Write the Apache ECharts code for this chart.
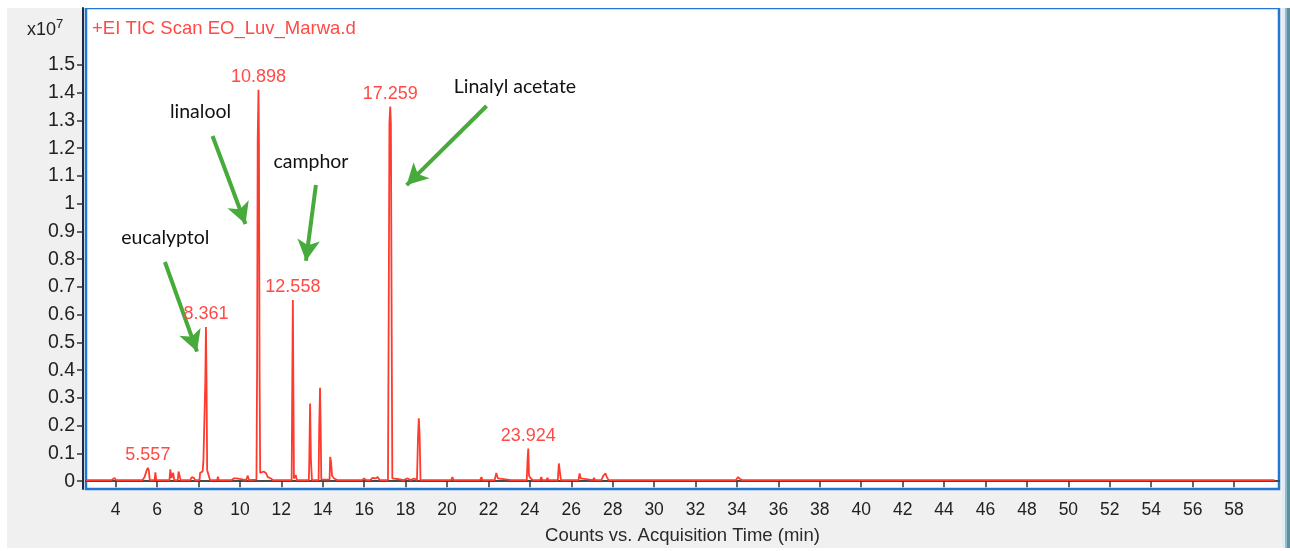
<!DOCTYPE html>
<html>
<head>
<meta charset="utf-8">
<script src="https://cdn.jsdelivr.net/npm/echarts@6/dist/echarts.min.js"></script>
<style>html,body{margin:0;padding:0;background:#fff}#c{width:1290px;height:551px}</style>
</head>
<body>
<div id="c"></div>
<script>
// Retention time (min) and TIC counts (x10^7)
const retentionTimes = [
  2.57, 3.80, 3.88, 3.95, 4.02, 5.30, 5.40, 5.50, 5.557, 5.60, 5.65, 5.88, 5.92, 5.96,
  6.60, 6.64, 6.70, 6.78, 6.83, 7.00, 7.04, 7.10, 7.14, 7.60, 7.68, 7.78, 7.84,
  8.05, 8.08, 8.20, 8.24, 8.30, 8.33, 8.361, 8.39, 8.42, 8.50, 8.56,
  8.90, 8.94, 8.98, 9.20, 9.28, 9.34, 9.60, 9.70, 9.85, 9.92, 10.30, 10.38, 10.44,
  10.80, 10.83, 10.86, 10.898, 10.92, 10.95, 10.98, 11.05, 11.15, 11.25, 11.35, 11.50, 11.60,
  12.50, 12.53, 12.558, 12.58, 12.61, 12.70, 12.75,
  13.33, 13.35, 13.39, 13.43, 13.46, 13.48, 13.80, 13.83, 13.87, 13.90, 13.93,
  14.33, 14.36, 14.40, 14.45, 14.55, 14.70,
  15.90, 16.00, 16.10, 16.30, 16.40, 16.55, 16.65, 16.75,
  17.15, 17.18, 17.22, 17.259, 17.29, 17.33, 17.36, 17.60, 17.90, 18.10, 18.25, 18.40,
  18.55, 18.60, 18.64, 18.68, 18.72,
  20.20, 20.26, 20.32, 21.60, 21.66, 21.72, 22.30, 22.38, 22.46, 22.55, 23.10, 23.15, 23.20,
  23.85, 23.89, 23.924, 23.96, 24.05, 24.15, 24.50, 24.55, 24.60, 24.80, 24.85, 24.90,
  25.35, 25.40, 25.46, 25.50, 25.85, 25.90, 25.95, 26.35, 26.40, 26.46, 26.52,
  27.05, 27.10, 27.15, 27.45, 27.55, 27.65, 27.72, 27.80, 28.00, 28.05, 28.10,
  30.28, 30.33, 30.38, 32.48, 32.52, 32.56, 33.95, 34.05, 34.15, 34.25, 59.95
];
const intensities = [
  0.004, 0.004, 0.010, 0.012, 0.004, 0.004, 0.015, 0.040, 0.048, 0.040, 0.004, 0.004, 0.032, 0.004,
  0.004, 0.043, 0.012, 0.030, 0.004, 0.004, 0.035, 0.037, 0.004, 0.004, 0.015, 0.012, 0.004,
  0.004, 0.030, 0.035, 0.075, 0.080, 0.360, 0.556, 0.360, 0.040, 0.035, 0.004,
  0.004, 0.016, 0.004, 0.004, 0.010, 0.004, 0.004, 0.010, 0.010, 0.004, 0.004, 0.020, 0.004,
  0.006, 0.395, 1.230, 1.410, 1.230, 0.395, 0.030, 0.025, 0.035, 0.030, 0.015, 0.010, 0.004,
  0.004, 0.372, 0.653, 0.372, 0.010, 0.022, 0.004,
  0.004, 0.075, 0.280, 0.075, 0.075, 0.004, 0.004, 0.200, 0.337, 0.200, 0.006,
  0.006, 0.088, 0.070, 0.020, 0.010, 0.004,
  0.004, 0.010, 0.004, 0.004, 0.012, 0.010, 0.015, 0.004,
  0.004, 0.520, 1.290, 1.350, 1.290, 0.520, 0.010, 0.008, 0.004, 0.010, 0.004, 0.010,
  0.004, 0.160, 0.227, 0.160, 0.004,
  0.004, 0.015, 0.004, 0.004, 0.015, 0.004, 0.004, 0.030, 0.010, 0.004, 0.004, 0.010, 0.004,
  0.004, 0.080, 0.118, 0.020, 0.010, 0.004, 0.004, 0.015, 0.004, 0.004, 0.012, 0.004,
  0.004, 0.064, 0.058, 0.004, 0.004, 0.010, 0.004, 0.004, 0.028, 0.010, 0.004,
  0.004, 0.012, 0.004, 0.004, 0.020, 0.028, 0.015, 0.004, 0.004, 0.010, 0.004,
  0.004, 0.010, 0.004, 0.004, 0.008, 0.004, 0.004, 0.015, 0.008, 0.004, 0.004
];
// Labelled peaks
const peakTimes = [5.557, 8.361, 10.898, 12.558, 17.259, 23.924];
const peakHeights = [0.048, 0.556, 1.410, 0.653, 1.350, 0.118];
// Compound annotations: label position and arrow (start -> tip) in data units
const compoundNames = ['linalool', 'camphor', 'eucalyptol', 'Linalyl acetate'];
const compoundLabelAt = [[8.10, 1.330], [13.43, 1.150], [6.40, 0.876], [23.28, 1.420]];
const arrowStart = [[8.68, 1.244], [13.67, 1.067], [6.38, 0.790], [21.91, 1.352]];
const arrowTip = [[10.27, 0.927], [13.19, 0.794], [7.93, 0.467], [18.05, 1.067]];
// Axis ticks
const xTicks = [4, 6, 8, 10, 12, 14, 16, 18, 20, 22, 24, 26, 28, 30, 32, 34, 36, 38, 40, 42, 44, 46, 48, 50, 52, 54, 56, 58];
const yTicks = [0, 0.1, 0.2, 0.3, 0.4, 0.5, 0.6, 0.7, 0.8, 0.9, 1, 1.1, 1.2, 1.3, 1.4, 1.5];

const traceData = retentionTimes.map((t, i) => [t, intensities[i]]);
const RED = '#ff3b2e';
const GREEN = '#46ab3a';
const axisFont = 'Liberation Sans, Arial, sans-serif';

const chart = echarts.init(document.getElementById('c'), null, {renderer: 'canvas'});
chart.setOption({
  animation: false,
  backgroundColor: '#f0f0f0',
  graphic: [
    {type: 'rect', shape: {x: 0, y: 0, width: 1290, height: 8}, style: {fill: '#ffffff'}, silent: true},
    {type: 'rect', shape: {x: 0, y: 0, width: 7, height: 551}, style: {fill: '#ffffff'}, silent: true},
    {type: 'rect', shape: {x: 0, y: 548, width: 1290, height: 3}, style: {fill: '#ffffff'}, silent: true},
    {type: 'rect', shape: {x: 1282, y: 8, width: 3, height: 540}, style: {fill: '#e4ecf2'}, silent: true},
    {type: 'rect', shape: {x: 1285, y: 8, width: 2, height: 540}, style: {fill: '#8fbad8'}, silent: true},
    {type: 'rect', shape: {x: 1287, y: 8, width: 3, height: 540}, style: {fill: '#5f8f98'}, silent: true},
    {type: 'text', left: 27, top: 21, style: {text: 'x10', fontSize: 18, fill: '#222', fontFamily: axisFont}},
    {type: 'text', left: 56, top: 18, style: {text: '7', fontSize: 13, fill: '#222', fontFamily: axisFont}},
    {type: 'text', left: 92, top: 19, style: {text: '+EI TIC Scan EO_Luv_Marwa.d', fontSize: 18.5, fill: '#ff4a45', fontFamily: axisFont}}
  ],
  grid: {
    left: 86, right: 11, top: 8, bottom: 62,
    show: true, backgroundColor: '#ffffff', borderColor: '#2377d2', borderWidth: 2.5
  },
  xAxis: {
    type: 'value', min: 2.57, max: 60.17, offset: 4,
    name: 'Counts vs. Acquisition Time (min)', nameLocation: 'middle', nameGap: 33,
    nameTextStyle: {fontSize: 18.5, color: '#2a2a2a', fontFamily: axisFont},
    axisLine: {show: true, lineStyle: {color: '#4a4a4a', width: 2}},
    axisTick: {show: true, length: 6, customValues: xTicks, lineStyle: {color: '#333', width: 1.5}},
    axisLabel: {customValues: xTicks, fontSize: 17.5, color: '#222', margin: 8, fontFamily: axisFont},
    splitLine: {show: false}
  },
  yAxis: {
    type: 'value', min: -0.028, max: 1.705, offset: 3,
    axisLine: {show: true, lineStyle: {color: '#1d2a44', width: 2}},
    axisTick: {show: true, length: 6, customValues: yTicks, lineStyle: {color: '#333', width: 1.5}},
    axisLabel: {customValues: yTicks, fontSize: 19.5, color: '#222', margin: 8, fontFamily: axisFont,
      formatter: v => String(+v.toFixed(1))},
    splitLine: {show: false}
  },
  series: [{
    type: 'line',
    data: traceData,
    symbol: 'none',
    lineStyle: {color: RED, width: 1.8},
    z: 3,
    markPoint: {
      symbol: 'circle', symbolSize: 1, silent: true,
      itemStyle: {color: 'rgba(0,0,0,0)'},
      label: {show: true, position: 'top', distance: 3, formatter: '{b}', color: '#ff4a45', fontSize: 18, fontFamily: axisFont},
      data: peakTimes.map((t, i) => ({name: t.toFixed(3), coord: [t, peakHeights[i]]}))
    }
  }, {
    type: 'line',
    data: [],
    z: 5,
    markPoint: {
      symbol: 'circle', symbolSize: 1, silent: true,
      itemStyle: {color: 'rgba(0,0,0,0)'},
      label: {show: true, position: 'inside', formatter: '{b}', color: '#111', fontSize: 19.5, fontFamily: 'Lato, sans-serif'},
      data: compoundNames.map((n, i) => ({name: n, coord: compoundLabelAt[i]}))
    },
    markLine: {
      silent: true, symbol: ['none', 'arrow'], symbolSize: [17, 21],
      label: {show: false},
      lineStyle: {color: GREEN, width: 4, type: 'solid'},
      emphasis: {disabled: true},
      data: arrowStart.map((s, i) => [{coord: s}, {coord: arrowTip[i]}])
    }
  }]
});
</script>
</body>
</html>
